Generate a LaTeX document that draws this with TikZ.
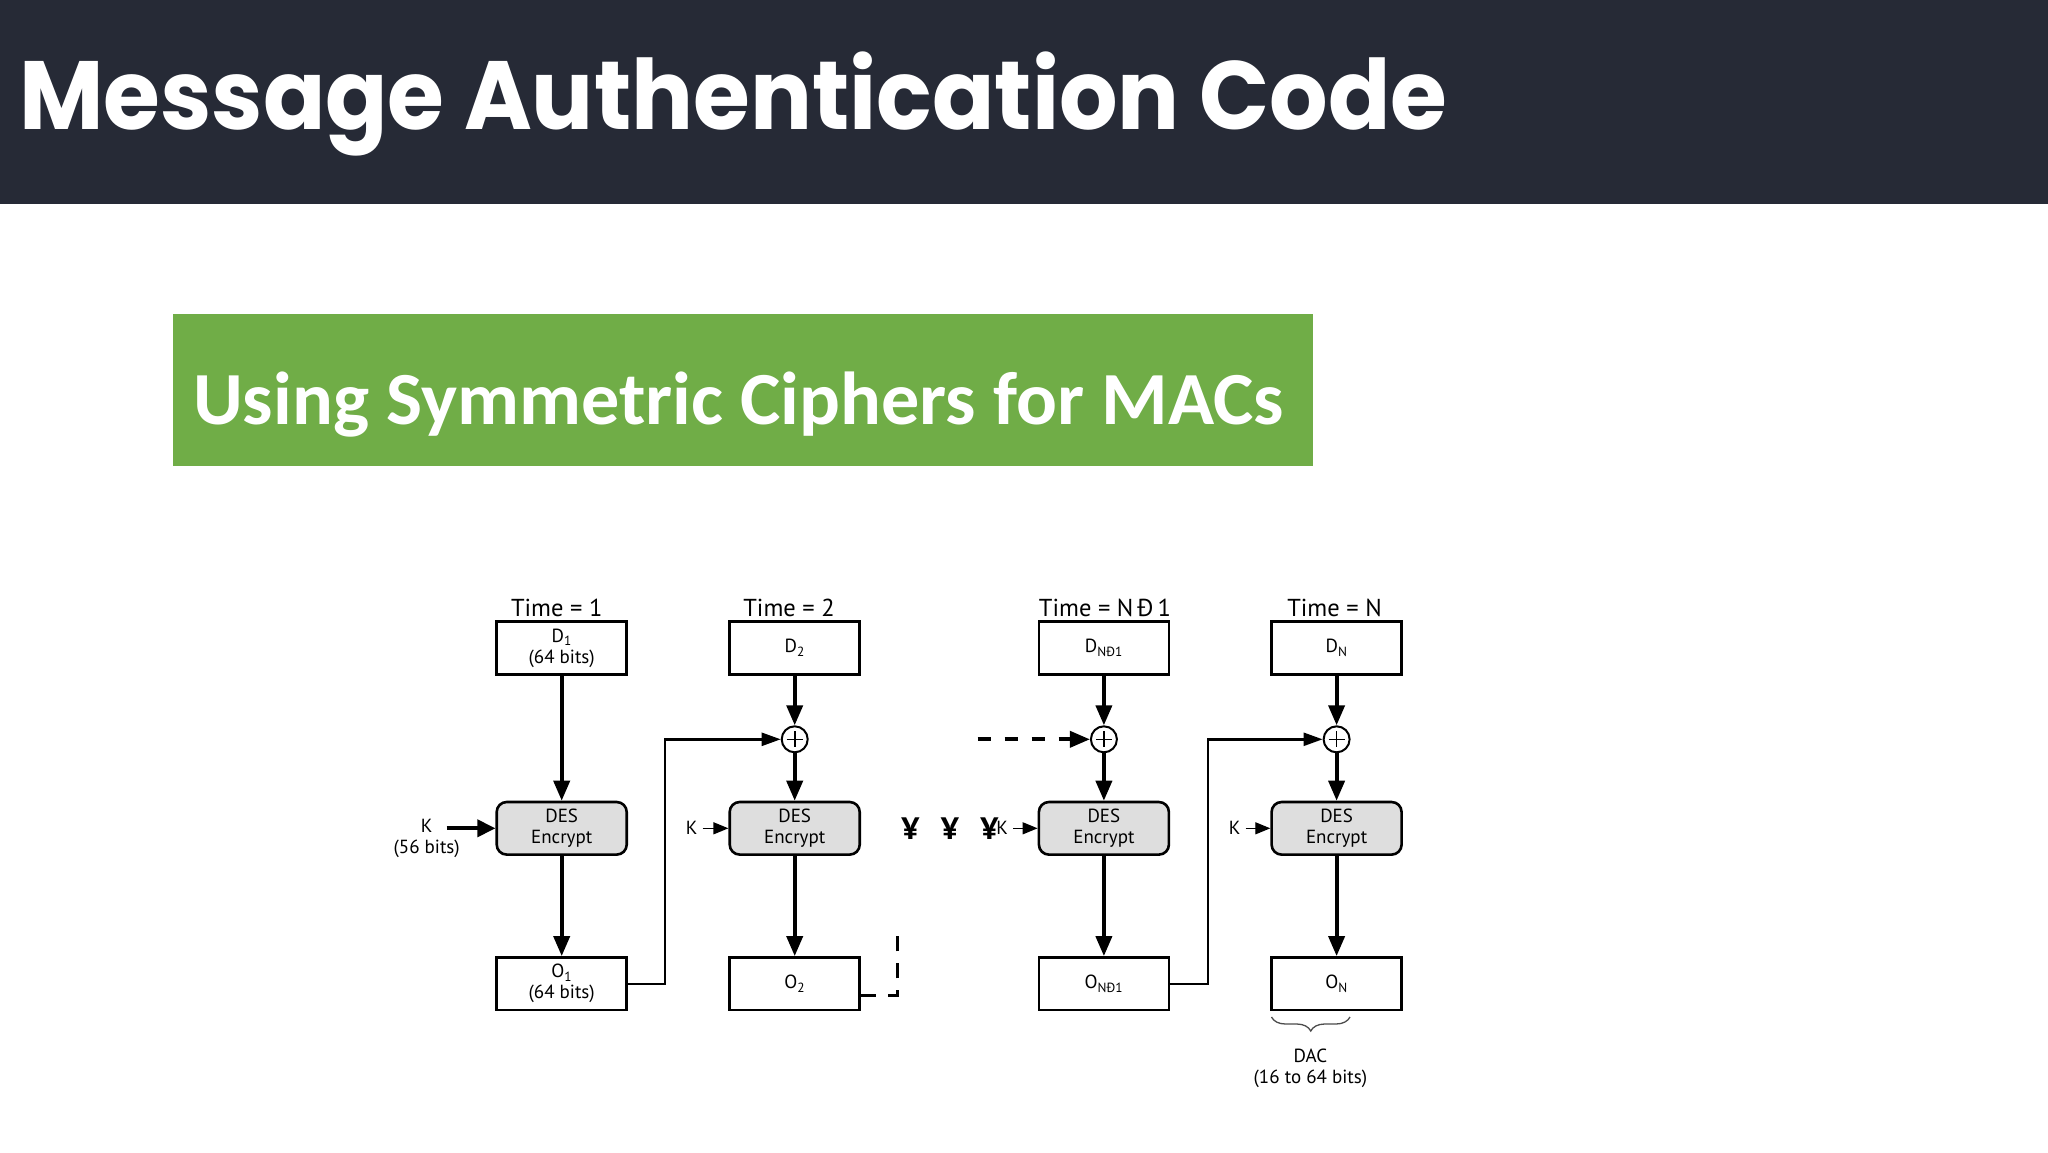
\documentclass[tikz,border=0pt]{standalone}
\usepackage{fontspec}
\usepackage{graphicx}
\setmainfont{PT Sans}
\newfontfamily\titlefont{Poppins}
\newfontfamily\subfont{Carlito}
\usetikzlibrary{arrows.meta,decorations.pathreplacing}
\definecolor{headerc}{HTML}{262A36}
\definecolor{mygreen}{HTML}{70AD47}
\definecolor{desfill}{HTML}{DEDEDE}
\begin{document}
\begin{tikzpicture}[x=1pt,y=-1pt,
 lbl/.style={font=\fontsize{19}{21}\selectfont, align=center, inner sep=0pt},
 timelbl/.style={font=\fontsize{24.5}{27}\selectfont, inner sep=0pt},
 blk/.style={draw, line width=2.6pt, minimum height=52.6pt, minimum width=130pt, inner sep=0pt, lbl},
 desblk/.style={blk, rounded corners=10pt, fill=desfill},
 xorn/.style={circle, draw, line width=2pt, minimum size=26pt, inner sep=0pt, fill=white,
   path picture={\draw[line width=1.6pt]
     ([yshift=8pt]path picture bounding box.center) -- ([yshift=-8pt]path picture bounding box.center)
     ([xshift=-8pt]path picture bounding box.center) -- ([xshift=8pt]path picture bounding box.center);}},
 flow/.style={line width=3.8pt, -{Triangle[length=20pt,width=16pt]}},
 fb/.style={line width=2.4pt, -{Triangle[length=19pt,width=13pt]}},
 thinarrow/.style={line width=1.3pt, -{Triangle[length=15pt,width=12pt]}},
 yen/.style={font=\fontsize{31}{32}\selectfont\bfseries, inner sep=0pt},
]
\useasboundingbox (0,0) rectangle (2048,1152);
\fill[white] (0,0) rectangle (2048,1152);
\fill[headerc] (0,0) rectangle (2048,204);
\fill[mygreen] (173.4,314.3) rectangle (1313,465.7);

\node[anchor=base west, inner sep=0pt, text=white] (title) at (19,129)
  {\resizebox{1428pt}{\height}{\titlefont\bfseries\fontsize{97}{100}\selectfont Message Authentication Code}};
\node[anchor=base west, inner sep=0pt, text=white] (sub) at (193,424)
  {\resizebox{1091pt}{\height}{\subfont\bfseries\fontsize{75}{80}\selectfont Using Symmetric Ciphers for MACs}};

% time labels
\node[timelbl] (t1) at (556.7,608) {Time = 1};
\node[timelbl] (t2) at (789,608) {Time = 2};
\node[timelbl] (t3) at (1105,608) {Time = N\,Ð\,1};
\node[timelbl] (t4) at (1334.5,608) {Time = N};

% data boxes
\node[blk] (D1) at (561.7,648) {D\textsubscript{1}\\(64 bits)};
\node[blk] (D2) at (794.7,648) {D\textsubscript{2}};
\node[blk] (D3) at (1103.9,648) {D\textsubscript{NÐ1}};
\node[blk] (D4) at (1336.6,648) {D\textsubscript{N}};

% xor
\node[xorn] (X2) at (794.7,739.3) {};
\node[xorn] (X3) at (1103.9,739.3) {};
\node[xorn] (X4) at (1336.6,739.3) {};

% DES
\node[desblk] (E1) at (561.7,828.3) {DES\\Encrypt};
\node[desblk] (E2) at (794.7,828.3) {DES\\Encrypt};
\node[desblk] (E3) at (1103.9,828.3) {DES\\Encrypt};
\node[desblk] (E4) at (1336.6,828.3) {DES\\Encrypt};

% outputs
\node[blk] (O1) at (561.7,983.7) {O\textsubscript{1}\\(64 bits)};
\node[blk] (O2) at (794.7,983.7) {O\textsubscript{2}};
\node[blk] (O3) at (1103.9,983.7) {O\textsubscript{NÐ1}};
\node[blk] (O4) at (1336.6,983.7) {O\textsubscript{N}};

% main flow
\draw[flow] (D1) -- (E1);
\draw[flow] (E1) -- (O1);
\draw[flow] (D2) -- (X2);
\draw[flow] (X2) -- (E2);
\draw[flow] (E2) -- (O2);
\draw[flow] (D3) -- (X3);
\draw[flow] (X3) -- (E3);
\draw[flow] (E3) -- (O3);
\draw[flow] (D4) -- (X4);
\draw[flow] (X4) -- (E4);
\draw[flow] (E4) -- (O4);

% keys
\node[lbl] (K1) at (426.7,838) {K\\(56 bits)};
\coordinate (K1s) at (446.7,828.3);
\draw[line width=3.8pt, -{Triangle[length=18pt,width=17pt]}] (K1s) -- (E1.west);
\node[lbl] (K2) at (691.7,828.3) {K};
\draw[thinarrow, shorten <=5pt] (K2) -- (E2.west);
\node[yen] (y1) at (910.3,829) {¥};
\node[yen] (y2) at (949.9,829) {¥};
\node[yen] (y3) at (989.5,829) {¥};
\node[lbl] (K3) at (1002.2,828.3) {K};
\draw[thinarrow, shorten <=5pt] (K3) -- (E3.west);
\node[lbl] (K4) at (1234.7,828.3) {K};
\draw[thinarrow, shorten <=5pt] (K4) -- (E4.west);

% feedback
\coordinate (j1) at (665,739.3);
\draw[fb] (O1.east) -| (j1) -- (X2.west);
\coordinate (j3) at (1207.8,739.3);
\draw[fb] (O3.east) -| (j3) -- (X4.west);

% dashed continuations
\coordinate (dd) at (897.7,932);
\draw[line width=2.6pt, dash pattern=on 15pt off 12pt] ([yshift=-12pt]O2.east) -| (dd);
\coordinate (ds) at (977.5,739.3);
\draw[flow, dash pattern=on 13pt off 14pt] (ds) -- (X3.west);

% brace
\coordinate (b1) at (1271.5,1017);
\coordinate (b2) at (1350,1017);
\draw[decorate, decoration={brace, mirror, amplitude=14pt}, line width=1.3pt, gray!60!black] (b1) -- (b2);
\node[lbl] (dac) at (1310.4,1068) {DAC\\(16 to 64 bits)};
\end{tikzpicture}
\end{document}
